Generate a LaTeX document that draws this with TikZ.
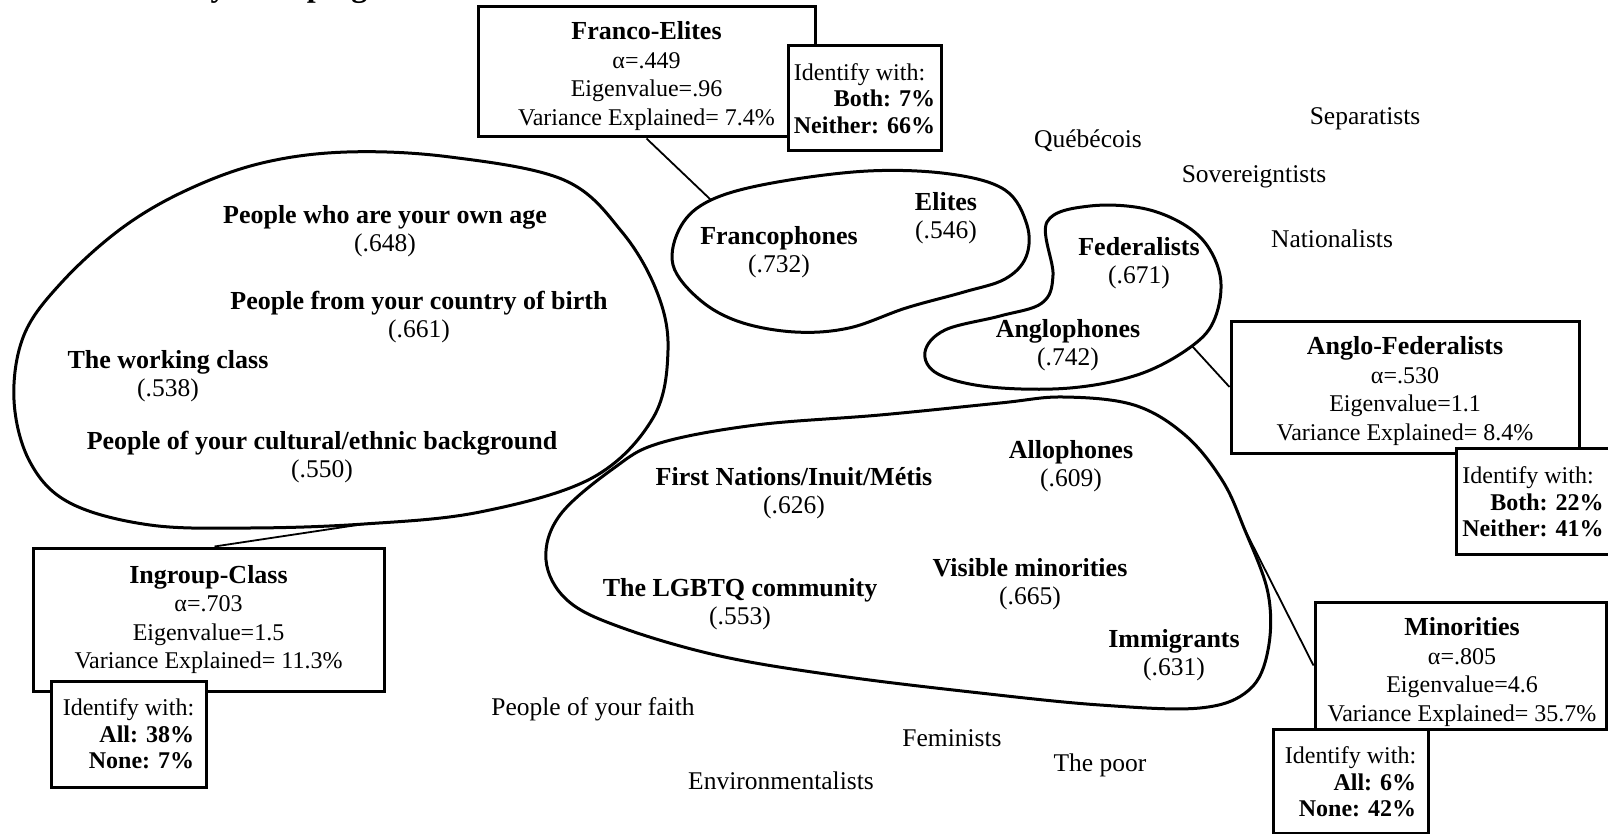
\documentclass[tikz,border=0pt]{standalone}
\usepackage{fontspec}
\setmainfont{Liberation Serif}
\begin{document}
\begin{tikzpicture}[x=1pt,y=-1pt,
  lbl/.style={font=\fontsize{25.5}{28.5}\selectfont, align=center, inner sep=0pt, yshift=-3pt},
  blob/.style={line width=3pt, line join=round},
  frame/.style={draw, line width=3pt, fill=white, inner sep=0pt},
  stattext/.style={align=center, inner sep=0pt, font=\fontsize{24}{28.5}\selectfont},
  idtext/.style={inner sep=0pt, font=\fontsize{24}{26.5}\selectfont},
  link/.style={line width=1.8pt}
]
\useasboundingbox (0,0) rectangle (1608,834);
\clip (0,0) rectangle (1608,834);
\fill[white] (0,0) rectangle (1608,834);

% heading (runs off the top edge)
\node[font=\bfseries\fontsize{32}{32}\selectfont, anchor=base west, inner sep=0pt]
  (title) at (118,-3) {Identity Groupings};

% ---------- factor outlines ----------
\draw[blob] plot[smooth cycle, tension=0.6] coordinates {
  (347,152) (450,157) (564,180) (622,232) (657,292) (668,350) (653,418)
  (592,478) (480,512) (364,524) (250,528) (150,525) (70,503) (30,462)
  (14,400) (24,335) (62,282) (122,228) (187,190) (262,163)};
\coordinate (igA) at (364,524);

\draw[blob] plot[smooth cycle, tension=0.6] coordinates {
  (711,200) (772,183) (868,171) (950,174) (1005,190) (1027,225) (1026,257)
  (1005,279) (964,292) (906,308) (849,328) (795,332) (740,322) (700,300)
  (673,265) (681,226)};
\coordinate (feA) at (711,200);

\draw[blob] plot[smooth cycle, tension=0.6] coordinates {
  (1047,222) (1090,206) (1150,210) (1198,235) (1220,275) (1215,318)
  (1192,346) (1140,374) (1070,388) (990,387) (938,374) (925,352) (945,330)
  (1000,316) (1042,303) (1053,275)};
\coordinate (afA) at (1192,346);

\draw[blob] plot[smooth cycle, tension=0.6] coordinates {
  (614,468) (660,443) (756,425) (880,415) (1000,403) (1063,397) (1134,405)
  (1185,435) (1222,480) (1244,528) (1268,593) (1268,650) (1249,690)
  (1200,708) (1100,705) (980,693) (840,676) (720,656) (620,627) (567,600)
  (546,560) (560,515)};
\coordinate (miA) at (1244,528);

% ---------- loadings ----------
\node[lbl] (age)  at (385,228) {\textbf{\fontsize{26}{28.5}\selectfont People who are your own age}\\(.648)};
\node[lbl] (cob)  at (419,314) {\textbf{\fontsize{26}{28.5}\selectfont People from your country of birth}\\(.661)};
\node[lbl] (wc)   at (168,373) {\textbf{\fontsize{26}{28.5}\selectfont The working class}\\(.538)};
\node[lbl] (eth)  at (322,454) {\textbf{\fontsize{26}{28.5}\selectfont People of your cultural/ethnic background}\\(.550)};

\node[lbl] (fra)  at (779,249) {\textbf{\fontsize{26}{28.5}\selectfont Francophones}\\(.732)};
\node[lbl] (eli)  at (946,215) {\textbf{\fontsize{26}{28.5}\selectfont Elites}\\(.546)};

\node[lbl] (fed)  at (1139,260) {\textbf{\fontsize{26}{28.5}\selectfont Federalists}\\(.671)};
\node[lbl] (ang)  at (1068,342) {\textbf{\fontsize{26}{28.5}\selectfont Anglophones}\\(.742)};

\node[lbl] (fni)  at (794,490) {\textbf{\fontsize{26}{28.5}\selectfont First Nations/Inuit/Métis}\\(.626)};
\node[lbl] (allo) at (1071,463) {\textbf{\fontsize{26}{28.5}\selectfont Allophones}\\(.609)};
\node[lbl] (vis)  at (1030,581) {\textbf{\fontsize{26}{28.5}\selectfont Visible minorities}\\(.665)};
\node[lbl] (lgb)  at (740,601) {\textbf{\fontsize{26}{28.5}\selectfont The LGBTQ community}\\(.553)};
\node[lbl] (imm)  at (1174,652) {\textbf{\fontsize{26}{28.5}\selectfont Immigrants}\\(.631)};

% ---------- groups outside the factors ----------
\node[lbl] (queb) at (1088,138) {Québécois};
\node[lbl] (sep)  at (1365,116) {Separatists};
\node[lbl] (sov)  at (1254,174) {Sovereigntists};
\node[lbl] (nat)  at (1332,236) {Nationalists};
\node[lbl] (fai)  at (593,706) {People of your faith};
\node[lbl] (fem)  at (952,735) {Feminists};
\node[lbl] (poor) at (1100,762) {The poor};
\node[lbl] (env)  at (781,778) {Environmentalists};

% ---------- factor summaries ----------
\node[frame, minimum width=337pt, minimum height=130pt] (fe) at (646.5,72) {};
\node[stattext] (fe-t) at (646.5,76)
  {{\bfseries\fontsize{26}{28.5}\selectfont Franco-Elites}\\α=.449\\Eigenvalue=.96\\Variance Explained= 7.4\%};
\node[frame, minimum width=153pt, minimum height=105pt] (feid) at (864.5,98.5) {};
\node[idtext] (feid-t) at (864.5,101.5)
  {\begin{tabular}{@{}r@{}}\multicolumn{1}{@{}l@{}}{Identify with:}\\
   \textbf{Both: 7\%}\\ \textbf{Neither: 66\%}\end{tabular}};

\node[frame, minimum width=351pt, minimum height=143pt] (ig) at (208.5,619.5) {};
\node[stattext] (ig-t) at (208.5,619.5)
  {{\bfseries\fontsize{26}{28.5}\selectfont Ingroup-Class}\\α=.703\\Eigenvalue=1.5\\Variance Explained= 11.3\%};
\node[frame, minimum width=155pt, minimum height=106pt] (igid) at (128.5,734) {};
\node[idtext] (igid-t) at (128.5,737)
  {\begin{tabular}{@{}r@{}}\multicolumn{1}{@{}l@{}}{Identify with:}\\
   \textbf{All: 38\%}\\ \textbf{None: 7\%}\end{tabular}};

\node[frame, minimum width=348pt, minimum height=132pt] (af) at (1405,387) {};
\node[stattext] (af-t) at (1405,391)
  {{\bfseries\fontsize{26}{28.5}\selectfont Anglo-Federalists}\\α=.530\\Eigenvalue=1.1\\Variance Explained= 8.4\%};
\node[frame, minimum width=160pt, minimum height=106pt] (afid) at (1536,501) {};
\node[idtext] (afid-t) at (1533,505)
  {\begin{tabular}{@{}r@{}}\multicolumn{1}{@{}l@{}}{Identify with:}\\
   \textbf{Both: 22\%}\\ \textbf{Neither: 41\%}\end{tabular}};

\node[frame, minimum width=291pt, minimum height=127pt] (mi) at (1460.5,665.5) {};
\node[stattext] (mi-t) at (1462,672)
  {{\bfseries\fontsize{26}{28.5}\selectfont Minorities}\\α=.805\\Eigenvalue=4.6\\Variance Explained= 35.7\%};
\node[frame, minimum width=155pt, minimum height=104pt] (miid) at (1350.5,781) {};
\node[idtext] (miid-t) at (1350.5,785)
  {\begin{tabular}{@{}r@{}}\multicolumn{1}{@{}l@{}}{Identify with:}\\
   \textbf{All: 6\%}\\ \textbf{None: 42\%}\end{tabular}};

% ---------- leader lines ----------
\draw[link] (fe.south) -- (feA);
\draw[link] (igA) -- ([xshift=6pt]ig.north);
\draw[link] (afA) -- (af.west);
\draw[link] (miA) -- (mi.west);
\end{tikzpicture}
\end{document}
